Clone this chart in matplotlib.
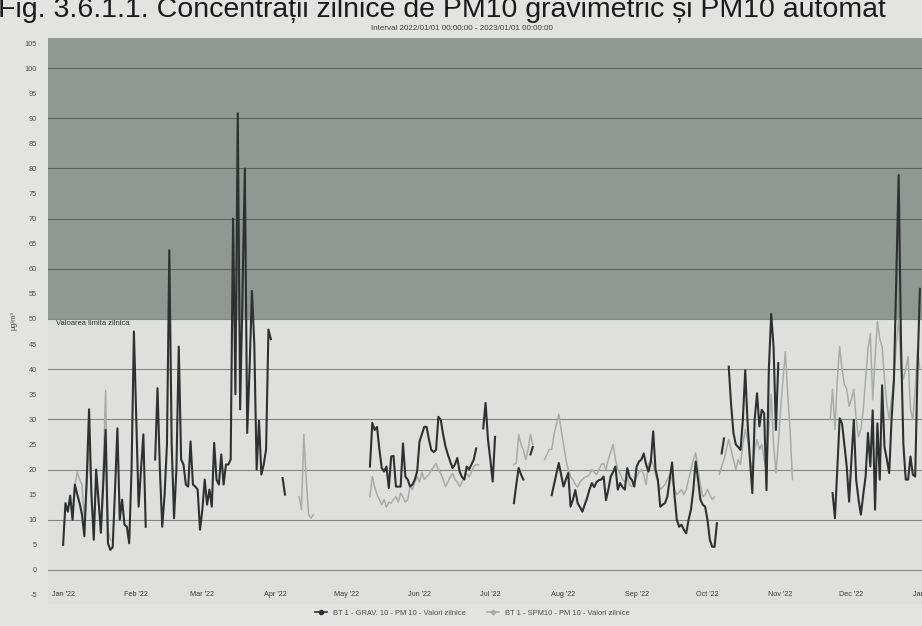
import matplotlib
matplotlib.use("Agg")
import matplotlib.pyplot as plt
from matplotlib.lines import Line2D
import pandas as pd

# Daily PM10 values (µg/m³), stored as runs of consecutive days: (first day, values)
grav_runs = [
    ("2022-01-01", [5, 13.3, 11.6, 14.8, 10, 17, 15, 13.3, 11, 6.7, 18, 32, 15, 6, 20, 14, 7.4, 17,
                    27.9, 5.3, 4, 4.5, 16, 28.2, 10, 14, 9, 8.6, 5.3, 20, 47.5, 30, 12.6, 20, 27, 8.6]),
    ("2022-02-09", [22, 36.2, 20, 8.6, 15, 25, 63.7, 25, 10.3, 20, 44.5, 22, 21, 17, 16.6, 25.6, 17,
                    16.6, 16, 8, 12, 18, 13, 16, 12.6, 25.3, 18, 17, 23, 17, 21, 21, 22, 70, 35, 91,
                    32, 55, 80, 27.3, 40, 55.6, 45, 20, 29.7, 19, 21, 24, 47.9, 46]),
    ("2022-04-04", [18.3, 15]),
    ("2022-05-11", [20.6, 29.3, 27.9, 28.5, 24, 20.3, 19.6, 20.6, 16.3, 22.6, 22.7, 16.6, 16.6, 16.6,
                    25.2, 18.6, 18, 16.6, 17, 18, 19.6, 25.6, 27, 28.5, 28.5, 26, 23.9, 23.5, 23.9,
                    30.5, 29.9, 27, 24.6, 23, 21.6, 20.3, 21, 22.3, 19.6, 18.5, 18, 20.6, 20, 21, 22,
                    24.2]),
    ("2022-06-28", [28.2, 33.3, 26, 22, 17.6, 26.5]),
    ("2022-07-11", [13.3, 17, 20.3, 19, 18]),
    ("2022-07-18", [23, 24.5]),
    ("2022-07-27", [14.9, 17, 19, 21.3, 19, 16.6, 18, 19.3, 12.6, 14, 15.9, 13.3, 12.5, 11.6, 13, 14.3,
                    16, 17.3, 16.5, 17.5, 17.9, 18, 18.6, 13.9, 16, 18.6, 19.5, 20.6, 16, 17.3, 16.5,
                    16, 20.3, 18.5, 17.9, 16.6, 20.6, 21.6, 22, 23.2, 21, 19.6, 21.5, 27.6, 20, 17.9,
                    12.6, 13, 13.3, 14.6, 18, 21.4, 15, 10, 8.6, 9, 8, 7.3, 10, 12, 16, 21.6, 18, 14,
                    13, 12.6, 10, 6, 4.6, 4.6, 9.3]),
    ("2022-10-07", [23.2, 26.2]),
    ("2022-10-10", [40.5, 33, 27.3, 25, 24.5, 23.9, 30, 39.8, 29.2, 22, 15.3, 30, 35.2, 28.6, 31.9,
                    31.2, 15.9, 40, 51, 44.5, 27.9, 41.2]),
    ("2022-11-23", [15.3, 10.3, 20, 30.2, 29.2, 25, 20.6, 13.6, 22, 29.9, 18, 14, 11, 15, 18.6, 27.3,
                    20.6, 31.8, 12, 29.2, 18, 36.8, 24.5, 22, 19.3, 30, 37.9, 58, 78.7, 45, 25, 18,
                    18, 22.6, 19, 18.6, 40, 56]),
]

spm_runs = [
    ("2022-01-05", [12, 17, 19.5, 18, 17, 10, 16, 25, 15, 9, 17, 13, 9, 20, 35.8, 8, 6]),
    ("2022-04-11", [14.6, 12, 27, 18, 11, 10.3, 11]),
    ("2022-05-11", [14.6, 18.6, 16.5, 15, 14, 13, 14, 12.5, 13.5, 13.3, 14, 14.6, 13.5, 15.3, 14.5,
                    13.5, 14, 16.6, 16, 17.5, 18.6, 17.5, 19.5, 18, 18.6, 19, 19.9, 20.5, 21.2, 20,
                    19.2, 18, 16.6, 17.5, 18.5, 19.2, 18, 17.5, 16.6, 17.5, 18.5, 19.2, 18.5, 19.5,
                    20.6, 21, 20.9]),
    ("2022-07-11", [21, 21.3, 27, 25, 23.9, 22, 24, 27, 25]),
    ("2022-07-24", [22, 23, 24, 24, 27, 29, 31, 28, 25, 22, 20, 18.5, 18, 17, 16.5, 17.5, 18, 18.5,
                    18.6, 19, 20, 19.5, 19, 20, 21, 21.2, 20, 22, 23.5, 25, 22, 20, 19.2, 18, 17.5,
                    18.5, 17, 16.6, 17.5, 18.5, 19.5, 20, 19, 17, 21, 22, 21, 19, 17.5, 16, 16.5, 17,
                    18, 19, 18, 16, 15, 15.5, 16, 15, 16, 18, 20, 22, 23.3, 20, 17, 14.6, 15, 16, 15,
                    14, 14.6]),
    ("2022-10-06", [19, 20.6, 22, 24, 26, 24, 22, 20, 22, 21, 25, 28, 26, 22, 20, 24, 26, 24, 25, 22,
                    20, 28, 35, 25, 19.3, 25, 32, 38, 43.5, 35, 28, 18]),
    ("2022-11-22", [30, 36, 28, 38, 44.5, 40, 37, 36, 32.6, 34, 36, 30, 26.5, 28, 32, 38, 44, 47.1,
                    33.9, 42, 49.5, 46, 44.5, 38, 33, 30, 34, 38, 45, 50, 40, 38, 40, 42.5, 32, 30,
                    36, 44, 40]),
]

daily_limit = 50
y_ticks = list(range(-5, 110, 5))
month_ticks = pd.date_range("2022-01-01", "2023-01-01", freq="MS")
grav_label = "BT 1 - GRAV. 10 - PM 10 - Valori zilnice"
spm_label = "BT 1 - SPM10 - PM 10 - Valori zilnice"
fig_title = "Fig. 3.6.1.1. Concentrații zilnice de PM10 gravimetric și PM10 automat"
interval_text = "Interval 2022/01/01 00:00:00 - 2023/01/01 00:00:00"


def runs_to_series(runs):
    parts = []
    for start, vals in runs:
        idx = pd.date_range(start, periods=len(vals), freq="D")
        parts.append(pd.Series(vals, index=idx, dtype=float))
    s = pd.concat(parts)
    full = pd.date_range("2022-01-01", "2022-12-31", freq="D")
    return s.reindex(full)


grav = runs_to_series(grav_runs)
spm = runs_to_series(spm_runs)

W, H = 922, 626
plt.rcParams["font.family"] = ["Liberation Sans", "DejaVu Sans"]
fig = plt.figure(figsize=(W / 100, H / 100), dpi=100)
fig.patch.set_facecolor("#e2e4df")

ax = fig.add_axes([48 / W, 1 - 604 / H, 1 - 48 / W + 0.01, (604 - 38) / H])
ax.set_facecolor("#dee1db")

x_left = pd.Timestamp("2022-01-01") - pd.Timedelta(days=6.4)
x_right = pd.Timestamp("2022-01-01") + pd.Timedelta(days=(W + 9 - 63) / 2.36)
ax.set_xlim(x_left, x_right)
ax.set_ylim(-6.8, 106)

# band above the daily limit value
ax.axhspan(daily_limit, 106, color="#8f9891", zorder=0.5, lw=0)
ax.text(x_left + pd.Timedelta(days=3.6), daily_limit - 0.2, "Valoarea limita zilnica",
        fontsize=5.5, color="#2c2f2d", va="top", ha="left", zorder=3)

for v in range(0, 106, 10):
    ax.axhline(v, color="#5c645e" if v > daily_limit else "#80867f", lw=0.8, zorder=1)

ax.plot(spm.index, spm.values, color="#a7aca6", lw=1.1, zorder=2)
ax.plot(grav.index, grav.values, color="#2d312f", lw=1.5, zorder=2.5)

ax.set_yticks(y_ticks)
ax.set_yticklabels([str(t) for t in y_ticks], fontsize=5.3, color="#4a4e4b")
ax.tick_params(axis="y", length=0, pad=8)
ax.set_xticks(month_ticks)
ax.set_xticklabels([d.strftime("%b '%y") for d in month_ticks], fontsize=5.2, color="#3a3e3b")
ax.tick_params(axis="x", length=0, pad=-9)
for sp in ax.spines.values():
    sp.set_visible(False)

ax.set_ylabel("µg/m³", fontsize=5.3, color="#4a4e4b")
ax.yaxis.set_label_coords(-0.035, 0.5)

handles = [
    Line2D([], [], color="#2d312f", lw=1.2, marker="o", markersize=3),
    Line2D([], [], color="#a7aca6", lw=1.2, marker="D", markersize=2.5),
]
fig.legend(handles, [grav_label, spm_label], loc="center", bbox_to_anchor=(472 / W, 1 - 613 / H),
           ncol=2, frameon=False, fontsize=5.4, handlelength=1.6, columnspacing=2.8,
           labelcolor="#4a4e4b")

fig.text(462 / W, 1 - 29 / H, interval_text,
         fontsize=5.8, color="#3a3e3b", ha="center", va="center")

# figure caption sits at the very top edge of the page
fig.text(-0.002, 1 - 17 / H, fig_title,
         fontsize=20.5, color="#1a1a1a", ha="left", va="baseline")

fig.savefig("out.png", dpi=100, facecolor=fig.get_facecolor())
